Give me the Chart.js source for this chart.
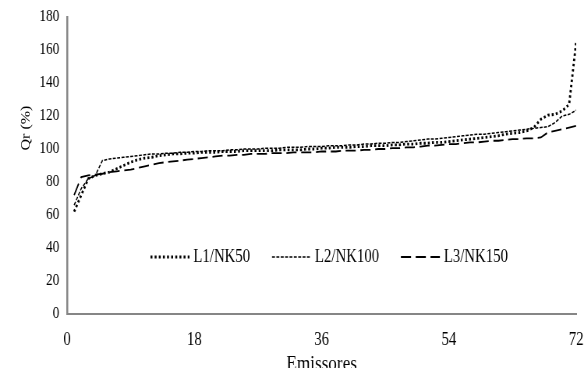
<!DOCTYPE html>
<html>
<head>
<meta charset="utf-8">
<script src="https://cdn.jsdelivr.net/npm/chart.js@4.4.0/dist/chart.umd.min.js"></script>
<style>
  html, body { margin: 0; padding: 0; background: #fff; overflow: hidden; }
  #wrap { width: 584px; height: 368px; overflow: hidden; }
  /* the reference looks horizontally squeezed, so draw wider and squeeze */
  canvas { transform: scaleX(0.7797); transform-origin: 0 0; }
</style>
</head>
<body>
<div id="wrap"><canvas id="chart" width="749" height="368"></canvas></div>
<script>
// Emitter index (x) and Qr (%) per line
const emissores = Array.from({ length: 72 }, (_, i) => i + 1);

const l1nk50 = [
  62, 72, 82, 84, 85, 86, 88, 90, 92, 93.5,
  94.5, 95, 96, 96.5, 97, 97, 97.5, 97.5, 98, 98,
  98, 98.5, 98.5, 98.5, 99, 99, 99, 99, 99, 99.5,
  99.5, 99.5, 99.5, 100, 100, 100.5, 100.5, 101, 101, 101,
  101.5, 101.5, 102, 102, 102, 102.5, 102.5, 103, 103, 103.5,
  103.5, 104, 104, 104.5, 105, 105.5, 106, 106.5, 107, 107.5,
  108, 109, 109.5, 110, 111, 113, 118, 120.5, 121, 123,
  127, 165
];

const l2nk100 = [
  66, 76, 82, 84, 93, 94, 94.5, 95, 95.5, 96,
  96.5, 97, 97, 97.5, 97.5, 98, 98, 98.5, 98.5, 99,
  99, 99, 99.5, 99.5, 100, 100, 100, 100.5, 100.5, 100.5,
  101, 101, 101, 101.5, 101.5, 101.5, 102, 102, 102, 102.5,
  102.5, 103, 103, 103.5, 103.5, 104, 104, 104.5, 105, 105.5,
  106, 106, 106.5, 107, 107.5, 108, 108.5, 109, 109, 109.5,
  110, 110.5, 111, 111.5, 112, 112.5, 113, 113.5, 116, 120,
  121, 123.5
];

const l3nk150 = [
  72, 83, 84, 84.5, 85, 86, 86.5, 87, 87.5, 88.5,
  89.5, 90.5, 91.5, 92, 92.5, 93, 93.5, 94, 94.5, 95,
  95.5, 96, 96, 96.5, 96.5, 97, 97, 97, 97.5, 97.5,
  97.5, 98, 98, 98, 98, 98.5, 98.5, 98.5, 99, 99,
  99, 99.5, 99.5, 100, 100, 100.5, 100.5, 101, 101, 101.5,
  102, 102, 102.5, 103, 103, 103.5, 104, 104, 104.5, 105,
  105, 105.5, 106, 106, 106.5, 106.5, 107, 110, 111, 112,
  113, 114
];

const seriesNames = ['L1/NK50', 'L2/NK100', 'L3/NK150'];
const axisGrey = '#868686';

Chart.defaults.font.family = "'Liberation Serif', 'Times New Roman', serif";
Chart.defaults.color = '#000';

const toPoints = values => values.map((v, i) => ({ x: emissores[i], y: v }));

// Legend drawn inside the plot area, as in the reference
const innerLegend = {
  id: 'innerLegend',
  afterDraw(chart) {
    const { ctx } = chart;
    const y = 257;
    let x = 193;
    ctx.save();
    ctx.font = "19px 'Liberation Serif'";
    ctx.textBaseline = 'middle';
    ctx.fillStyle = '#000';
    chart.data.datasets.forEach(ds => {
      ctx.beginPath();
      ctx.strokeStyle = ds.borderColor;
      ctx.lineWidth = ds.borderWidth;
      ctx.setLineDash(ds.borderDash);
      ctx.moveTo(x, y);
      ctx.lineTo(x + 50, y);
      ctx.stroke();
      ctx.setLineDash([]);
      x += 55;
      ctx.fillText(ds.label, x, y);
      x += ctx.measureText(ds.label).width + 28;
    });
    ctx.restore();
  }
};

// Y title sits above the middle of the axis in the reference
const yTitle = {
  id: 'yTitle',
  afterDraw(chart) {
    const { ctx } = chart;
    ctx.save();
    ctx.translate(34, 128);
    ctx.rotate(-Math.PI / 2);
    ctx.font = "16px 'Liberation Serif'";
    ctx.textAlign = 'center';
    ctx.textBaseline = 'middle';
    ctx.fillStyle = '#000';
    ctx.fillText('Qr (%)', 0, 0);
    ctx.restore();
  }
};

new Chart(document.getElementById('chart'), {
  type: 'line',
  data: {
    datasets: [
      {
        label: seriesNames[0],
        data: toPoints(l1nk50),
        borderColor: '#000',
        borderWidth: 2.8,
        borderDash: [2.5, 2.8],
        pointRadius: 0,
        fill: false,
      },
      {
        label: seriesNames[1],
        data: toPoints(l2nk100),
        borderColor: '#000',
        borderWidth: 1.5,
        borderDash: [3.8, 1.8],
        pointRadius: 0,
        fill: false,
      },
      {
        label: seriesNames[2],
        data: toPoints(l3nk150),
        borderColor: '#000',
        borderWidth: 1.8,
        borderDash: [13, 6],
        pointRadius: 0,
        fill: false,
      }
    ]
  },
  options: {
    responsive: false,
    animation: false,
    layout: { padding: { top: 17, right: 0, bottom: 0, left: 0 } },
    plugins: {
      legend: { display: false },
      tooltip: { enabled: false }
    },
    scales: {
      x: {
        type: 'linear',
        min: 0,
        max: 72,
        grid: { display: false, drawTicks: false },
        border: { color: axisGrey, width: 2 },
        ticks: { stepSize: 18, color: '#000', font: { size: 19 }, padding: 15, maxRotation: 0 },
        title: {
          display: true,
          text: 'Emissores',
          color: '#000',
          font: { size: 22, lineHeight: 1 },
          padding: { top: 0, bottom: -7 }
        },
        afterFit: s => {
          s.height = 54;
          s.paddingLeft = 0;
          s.paddingRight = 10;
        }
      },
      y: {
        min: 0,
        max: 180,
        grid: { display: false, drawTicks: false },
        border: { color: axisGrey, width: 2.5 },
        ticks: { stepSize: 20, color: '#000', font: { size: 17 }, padding: 10 },
        afterFit: s => {
          s.width = 86;
          s.paddingTop = 0;
          s.paddingBottom = 0;
        }
      }
    }
  },
  plugins: [innerLegend, yTitle]
});
</script>
</body>
</html>
